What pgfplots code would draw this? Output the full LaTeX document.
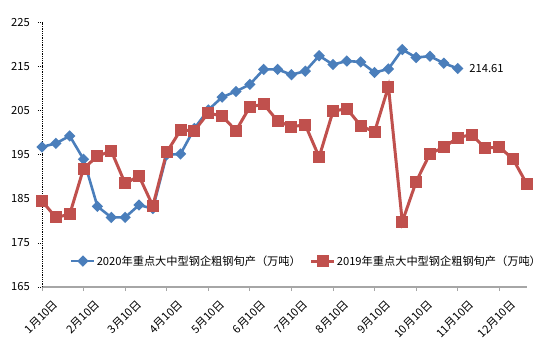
\documentclass[border=0pt]{standalone}
\usepackage{fontspec}
\setmainfont{Noto Sans CJK SC}
\usepackage{pgfplots}
\pgfplotsset{compat=1.18}
\definecolor{c20}{HTML}{4A7EBB}
\definecolor{c19}{HTML}{C0504D}
\newcommand{\cf}{\fontsize{11.2bp}{13bp}\selectfont}
\begin{document}
\begin{tikzpicture}
\path[use as bounding box] (0bp,0bp) rectangle (551bp,362bp);
\begin{axis}[
  at={(42bp,75bp)}, anchor=south west,
  scale only axis, width=485bp, height=264.3bp,
  xmin=0, xmax=35, ymin=165, ymax=225,
  clip=false,
  axis x line*=bottom, axis y line*=left,
  x axis line style={draw=black!35, line width=1.2bp},
  y axis line style={draw=black, densely dotted, line width=0.8bp},
  xtick={0,3,...,33},
  xticklabels={1月10日,2月10日,3月10日,4月10日,5月10日,6月10日,7月10日,8月10日,9月10日,10月10日,11月10日,12月10日},
  ytick={165,175,...,225},
  tick align=outside,
  major tick length=4bp,
  xtick style={draw=black!35, line width=1bp},
  ytick style={draw=black, line width=0.8bp, densely dotted},
  /pgf/number format/assume math mode=true,
  tick label style={font=\cf},
  xticklabel style={rotate=45, anchor=east, inner sep=0pt, xshift=2bp, yshift=-18bp},
  yticklabel style={anchor=east, inner sep=0pt, xshift=-8bp},
  legend columns=2,
  legend style={at={(0.0577,0.098)}, anchor=west, draw=none, fill=none, inner sep=0pt, font=\cf,
    nodes={inner sep=1bp}, /tikz/every even column/.append style={column sep=8bp}},
  legend image code/.code={\draw[mark repeat=2,mark phase=2,#1] plot coordinates {(0bp,0bp)(11.5bp,0bp)(23bp,0bp)};},
]
\addplot[color=c20, line width=2.6bp, mark=square*, mark size=2.7bp, mark options={rotate=45, solid}] coordinates {
(0,196.8)(1,197.6)(2,199.3)(3,194.0)(4,183.3)(5,180.8)(6,180.8)(7,183.6)(8,182.8)(9,195.0)
(10,195.2)(11,201.0)(12,205.2)(13,208.1)(14,209.4)(15,211.0)(16,214.4)(17,214.4)(18,213.2)(19,214.0)
(20,217.5)(21,215.5)(22,216.3)(23,216.1)(24,213.7)(25,214.5)(26,218.9)(27,217.1)(28,217.4)(29,215.8)
(30,214.61)};
\addlegendentry{2020年重点大中型钢企粗钢旬产（万吨）}
\addplot[color=c19, line width=3bp, mark=square*, mark size=4.5bp, mark options={solid}] coordinates {
(0,184.5)(1,180.8)(2,181.5)(3,191.9)(4,194.7)(5,195.9)(6,188.5)(7,190.2)(8,183.4)(9,195.6)
(10,200.6)(11,200.5)(12,204.5)(13,203.8)(14,200.5)(15,205.9)(16,206.5)(17,202.7)(18,201.4)(19,201.8)
(20,194.5)(21,204.9)(22,205.5)(23,201.6)(24,200.2)(25,210.5)(26,179.8)(27,188.9)(28,195.3)(29,196.7)
(30,198.9)(31,199.6)(32,196.5)(33,196.8)(34,194.0)(35,188.3)};
\addlegendentry{2019年重点大中型钢企粗钢旬产（万吨）}
\node[anchor=west, inner sep=0pt, xshift=11.5bp, font=\cf] at (axis cs:30,214.61) {214.61};
\end{axis}
\end{tikzpicture}
\end{document}
